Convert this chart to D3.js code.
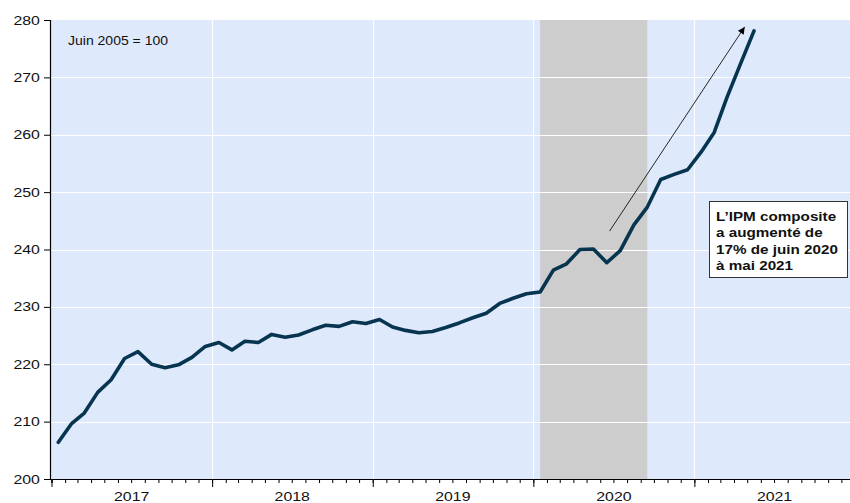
<!DOCTYPE html>
<html>
<head>
<meta charset="utf-8">
<script src="https://cdn.jsdelivr.net/npm/d3@7"></script>
<style>
  body { margin: 0; background: #fff; }
  svg { display: block; font-family: "Liberation Sans", Arial, sans-serif; }
</style>
</head>
<body>
<svg width="850" height="503"></svg>
<script>
// IPM composite, mensuel, janv. 2017 - mai 2021 (juin 2005 = 100)
const startMonth = "2017-01";
const values = [
  206.4, 209.6, 211.5, 215.1, 217.3, 221.0, 222.2, 220.0, 219.4, 219.9, 221.2, 223.1,
  223.8, 222.5, 224.0, 223.8, 225.2, 224.7, 225.1, 226.0, 226.8, 226.6, 227.4, 227.1,
  227.8, 226.5, 225.9, 225.5, 225.7, 226.4, 227.2, 228.1, 228.9, 230.6, 231.5, 232.3,
  232.6, 236.4, 237.5, 240.0, 240.1, 237.7, 239.8, 244.3, 247.4, 252.2, 253.1, 253.9,
  257.0, 260.4, 266.6, 272.4, 278.1
];
const yTicks = [200, 210, 220, 230, 240, 250, 260, 270, 280];
const yearLabels = [2017, 2018, 2019, 2020, 2021];
const shadeMonths = ["2020-01", "2020-09"];   // période grisée
const arrowFrom = { month: "2020-06", value: 243.2, offset: 0.2 };
const arrowTo = { month: "2021-04", value: 278.8, offset: 0.3 };
const noteLines = ["L\u2019IPM composite", "a augmenté de", "17% de juin 2020", "à mai 2021"];
const baseLabel = "Juin 2005 = 100";

const svg = d3.select("svg");
const margin = { top: 20, right: 0, bottom: 24, left: 50 };
const width = +svg.attr("width") - margin.left - margin.right;
const height = +svg.attr("height") - margin.top - margin.bottom;
const g = svg.append("g").attr("transform", `translate(${margin.left},${margin.top})`);

const parseMonth = d3.timeParse("%Y-%m");
const t0 = parseMonth(startMonth);
const dates = values.map((v, i) => d3.timeMonth.offset(t0, i));

// échelles
const x = d3.scaleTime()
  .domain([new Date(2017, 0, 1), new Date(2022, 0, 1)])
  .range([1.5, 805]);
const y = d3.scaleLinear().domain([200, 280]).range([height, 0]);

// point au milieu du mois
const xMid = d => (x(d) + x(d3.timeMonth.offset(d, 1))) / 2;

const stretch = "scale(1.27,1)";

// fond
g.append("rect")
  .attr("width", width).attr("height", height)
  .attr("fill", "#dee9fb");

// grisé
g.append("rect")
  .attr("x", xMid(parseMonth(shadeMonths[0])))
  .attr("width", xMid(parseMonth(shadeMonths[1])) - xMid(parseMonth(shadeMonths[0])))
  .attr("y", 0).attr("height", height)
  .attr("fill", "#cdcdcd");

// grille
const grid = g.append("g").attr("stroke", "#fff").attr("stroke-width", 1);
grid.selectAll(".hg")
  .data(yTicks.slice(1, -1))
  .enter().append("line")
  .attr("x1", 0).attr("x2", width)
  .attr("y1", d => Math.round(y(d)) + 0.5).attr("y2", d => Math.round(y(d)) + 0.5);
grid.selectAll(".vg")
  .data(x.ticks(d3.timeYear.every(1)).slice(1))
  .enter().append("line")
  .attr("x1", d => Math.round(x(d)) + 0.5).attr("x2", d => Math.round(x(d)) + 0.5)
  .attr("y1", 0).attr("y2", height);

// série
const line = d3.line()
  .x((d, i) => xMid(dates[i]))
  .y(d => y(d));

g.append("path")
  .datum(values)
  .attr("fill", "none")
  .attr("stroke", "#073550")
  .attr("stroke-width", 3.6)
  .attr("stroke-linejoin", "round")
  .attr("stroke-linecap", "round")
  .attr("d", line);

// flèche
svg.append("defs").append("marker")
  .attr("id", "arrow")
  .attr("viewBox", "0 0 10 10")
  .attr("refX", 10).attr("refY", 5)
  .attr("markerWidth", 9).attr("markerHeight", 7)
  .attr("markerUnits", "userSpaceOnUse")
  .attr("orient", "auto")
  .append("path")
  .attr("d", "M0,0 L10,5 L0,10 Z")
  .attr("fill", "#000");

const toX = p => xMid(parseMonth(p.month)) + (p.offset || 0) * (x(new Date(2017, 1, 1)) - x(new Date(2017, 0, 1)));
g.append("line")
  .attr("x1", toX(arrowFrom)).attr("y1", y(arrowFrom.value))
  .attr("x2", toX(arrowTo)).attr("y2", y(arrowTo.value))
  .attr("stroke", "#111").attr("stroke-width", 0.9)
  .attr("marker-end", "url(#arrow)");

// encadré
const note = svg.append("g").attr("transform", "translate(709.5,201.5)");
note.append("rect")
  .attr("width", 138).attr("height", 76)
  .attr("fill", "#fff").attr("stroke", "#333").attr("stroke-width", 1);
note.selectAll("text")
  .data(noteLines)
  .enter().append("text")
  .attr("transform", (d, i) => `translate(6.5,${19 + i * 16.6}) ${stretch}`)
  .attr("font-size", 12).attr("font-weight", "bold").attr("fill", "#111")
  .text(d => d);

svg.append("text")
  .attr("transform", `translate(68,45) scale(1.12,1)`)
  .attr("font-size", 12.5).attr("fill", "#111")
  .text(baseLabel);

// axes
const yAxis = g.append("g")
  .call(d3.axisLeft(y).tickValues(yTicks).tickSize(6).tickPadding(2));
yAxis.select(".domain").attr("stroke", "#000").attr("stroke-width", 1.2);
yAxis.selectAll("text").attr("font-size", 12.5).attr("fill", "#111")
  .attr("transform", stretch).style("font-family", "inherit");

const xMonths = g.append("g")
  .attr("transform", `translate(0,${height})`)
  .call(d3.axisBottom(x).ticks(d3.timeMonth.every(1)).tickSize(4).tickFormat(""));
xMonths.select(".domain").attr("stroke", "#000").attr("stroke-width", 1.2);

const xYears = g.append("g")
  .attr("transform", `translate(0,${height})`)
  .call(d3.axisBottom(x).ticks(d3.timeYear.every(1)).tickSize(8).tickFormat(""));
xYears.select(".domain").remove();

const xLabels = g.append("g")
  .attr("transform", `translate(0,${height})`)
  .call(d3.axisBottom(x)
    .tickValues(yearLabels.map(yr => new Date(yr, 6, 1)))
    .tickSize(0).tickPadding(13)
    .tickFormat(d3.timeFormat("%Y")));
xLabels.select(".domain").remove();
xLabels.selectAll("text").attr("font-size", 12.5).attr("fill", "#111")
  .attr("transform", stretch).style("font-family", "inherit");
xLabels.selectAll(".tick text").attr("x", 0);
</script>
</body>
</html>
